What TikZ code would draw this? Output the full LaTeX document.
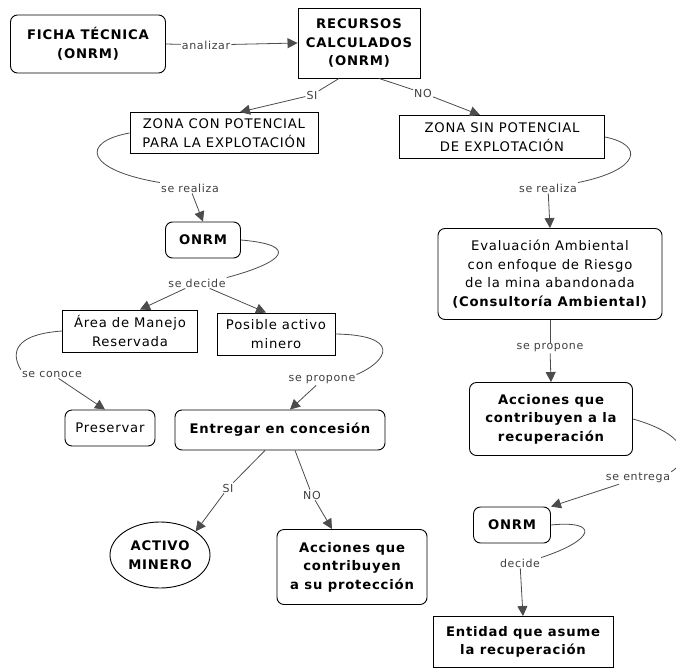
\documentclass[tikz,border=0pt]{standalone}
\usepackage{fontspec}
\setmainfont{DejaVu Sans}[LetterSpace=6]
\usetikzlibrary{shapes.geometric,arrows.meta}
\begin{document}
\begin{tikzpicture}[x=1pt,y=-1pt,
  box/.style={draw=black,line width=0.9pt,align=center,inner sep=1pt,
     font=\fontsize{13.2}{18.5}\selectfont},
  rbox/.style={box,rounded corners=7pt},
  bold/.style={font=\fontsize{13.2}{18.5}\selectfont\bfseries},
  lab/.style={text=black!75,font=\fontsize{11}{13}\selectfont,inner sep=1pt,fill=white},
  conn/.style={draw=black!70,line width=0.8pt},
  arr/.style={conn,-{Triangle[length=10pt,width=10pt]}}]
\useasboundingbox[fill=white] (0,0) rectangle (676,671);

% nodes
\node[rbox,bold,minimum width=155pt,minimum height=58pt] (ficha) at (88,44) {FICHA TÉCNICA\\(ONRM)};
\node[box,bold,minimum width=122pt,minimum height=70pt] (rec) at (359,43) {RECURSOS\\CALCULADOS\\(ONRM)};
\node[box,minimum width=188pt,minimum height=41pt] (zcon) at (224,133) {ZONA CON POTENCIAL\\PARA LA EXPLOTACIÓN};
\node[box,minimum width=205pt,minimum height=43pt] (zsin) at (502,137) {ZONA SIN POTENCIAL\\DE EXPLOTACIÓN};
\node[rbox,bold,minimum width=75pt,minimum height=36pt] (onrma) at (203,240) {ONRM};
\node[box,minimum width=135pt,minimum height=42pt] (area) at (130,331) {Área de Manejo\\Reservada};
\node[box,minimum width=118pt,minimum height=42pt] (posible) at (276,334) {Posible activo\\minero};
\node[rbox,minimum width=90pt,minimum height=36pt] (preservar) at (110,428) {Preservar};
\node[rbox,bold,minimum width=210pt,minimum height=40pt] (entregar) at (280,430) {Entregar en concesión};
\node[ellipse,draw=black,line width=0.9pt,align=center,bold,minimum width=100pt,minimum height=66pt,inner sep=0pt] (activo) at (160,555) {ACTIVO\\MINERO};
\node[rbox,bold,minimum width=150pt,minimum height=75pt] (accprot) at (352,567) {Acciones que\\contribuyen\\a su protección};
\node[rbox,minimum width=224pt,minimum height=91pt] (eval) at (550,274) {Evaluación Ambiental\\con enfoque de Riesgo\\de la mina abandonada\\\textbf{(Consultoría Ambiental)}};
\node[rbox,bold,minimum width=163pt,minimum height=73pt] (accrec) at (551,419) {Acciones que\\contribuyen a la\\recuperación};
\node[rbox,bold,minimum width=77pt,minimum height=36pt] (onrmb) at (512,525) {ONRM};
\node[box,bold,minimum width=180pt,minimum height=51pt] (entidad) at (523,642) {Entidad que asume\\la recuperación};

% labels
\node[lab] (lanal) at (206,45) {analizar};
\node[lab] (lsi) at (312,95) {SI};
\node[lab] (lno) at (423,93) {NO};
\node[lab] (lreal1) at (190,188) {se realiza};
\node[lab] (lreal2) at (548,188) {se realiza};
\node[lab] (ldec) at (197,283) {se decide};
\node[lab] (lcon) at (52,374) {se conoce};
\node[lab] (lprop1) at (322,380) {se propone};
\node[lab] (lsi2) at (228,488) {SI};
\node[lab] (lno2) at (312,495) {NO};
\node[lab] (lprop2) at (550,348) {se propone};
\node[lab] (lentr) at (638,478) {se entrega};
\node[lab] (ldecide) at (520,563) {decide};

% connectors
\draw[conn] (ficha.east) -- (lanal);
\draw[arr] (lanal) -- (rec.west);
\coordinate (ra) at ([xshift=-20pt]rec.south);
\draw[conn] (ra) -- (lsi);
\coordinate (zcn) at ([xshift=16pt]zcon.north);
\draw[arr] (lsi) -- (zcn);
\coordinate (rb) at ([xshift=20pt]rec.south);
\draw[conn] (rb) -- (lno);
\coordinate (zsn) at ([xshift=-22pt]zsin.north);
\draw[arr] (lno) -- (zsn);

\draw[conn] (zcon.west) .. controls (80,142) and (85,170) .. (lreal1.north west);
\draw[arr] (lreal1) -- (onrma.north);

\draw[conn] (zsin.east) .. controls (645,145) and (640,170) .. (lreal2.north east);
\draw[arr] (lreal2) -- (eval.north);

\draw[conn] (onrma.east) .. controls (300,245) and (285,262) .. (ldec.north east);
\coordinate (an) at ([xshift=10pt]area.north);
\coordinate (pn) at ([xshift=-10pt]posible.north);
\draw[arr] (ldec) -- (an);
\draw[arr] (ldec) -- (pn);

\draw[conn] (area.west) .. controls (5,335) and (15,360) .. (lcon.north west);
\coordinate (prn) at ([xshift=-5pt]preservar.north);
\draw[arr] (lcon) -- (prn);

\draw[conn] (posible.east) .. controls (400,335) and (390,360) .. (lprop1.north east);
\coordinate (en) at ([xshift=10pt]entregar.north);
\draw[arr] (lprop1) -- (en);

\coordinate (es1) at ([xshift=-15pt]entregar.south);
\coordinate (es2) at ([xshift=15pt]entregar.south);
\draw[conn] (es1) -- (lsi2);
\draw[arr] (lsi2) -- (activo.north east);
\draw[conn] (es2) -- (lno2);
\coordinate (apn) at ([xshift=-20pt]accprot.north);
\draw[arr] (lno2) -- (apn);

\draw[conn] (eval.south) -- (lprop2);
\draw[arr] (lprop2) -- (accrec.north);

\draw[conn] (accrec.east) .. controls (690,435) and (690,460) .. (lentr.north east);
\draw[arr] (lentr) -- (onrmb.north east);

\draw[conn] (onrmb.east) .. controls (600,520) and (595,540) .. (ldecide.north east);
\draw[arr] (ldecide) -- (entidad.north);
\end{tikzpicture}
\end{document}
